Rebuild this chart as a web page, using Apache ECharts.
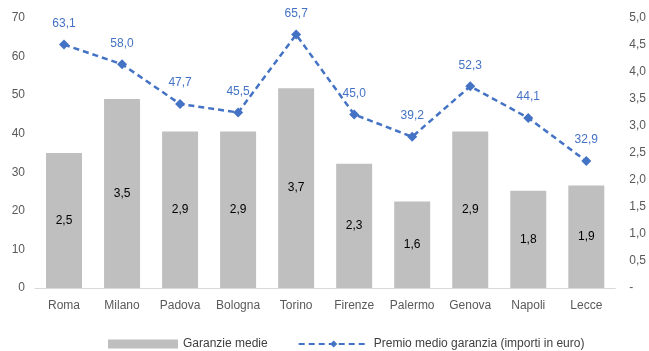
<!DOCTYPE html>
<html><head><meta charset="utf-8">
<script src="https://cdn.jsdelivr.net/npm/echarts@6/dist/echarts.min.js"></script>
<style>html,body{margin:0;padding:0;background:#fff}#c{width:649px;height:351px}</style>
</head><body><div id="c"></div>
<script>
var categories = ['Roma','Milano','Padova','Bologna','Torino','Firenze','Palermo','Genova','Napoli','Lecce'];
var garanzieMedie = [2.5, 3.5, 2.9, 2.9, 3.7, 2.3, 1.6, 2.9, 1.8, 1.9];
var premioMedio = [63.1, 58.0, 47.7, 45.5, 65.7, 45.0, 39.2, 52.3, 44.1, 32.9];
var leftTicks = {min: 0, max: 70, interval: 10};
var rightTicks = {min: 0, max: 5, interval: 0.5};

var FONT = "'Liberation Sans', Arial, sans-serif";
function it(v, d){ return v.toFixed(d).replace('.', ','); }
var chart = echarts.init(document.getElementById('c'), null, {renderer:'canvas'});
chart.setOption({
  animation: false,
  textStyle: {fontFamily: FONT},
  grid: {left: 35, right: 32, top: 18, bottom: 63, containLabel: false},
  legend: {
    top: 338, left: 108, padding: 0, itemGap: 30, itemWidth: 70, itemHeight: 9,
    textStyle: {fontFamily: FONT, fontSize: 12, color: '#404040'},
    data: [
      {name: 'Garanzie medie', icon: 'rect'},
      {name: 'Premio medio garanzia (importi in euro)'}
    ]
  },
  xAxis: {
    type: 'category', data: categories,
    axisLine: {lineStyle: {color: '#d9d9d9', width: 1}},
    axisTick: {show: false},
    axisLabel: {color: '#595959', fontSize: 12, fontFamily: FONT, margin: 12, interval: 0}
  },
  yAxis: [
    {type: 'value', min: leftTicks.min, max: leftTicks.max, interval: leftTicks.interval,
     splitLine: {show: false}, axisLine: {show: false}, axisTick: {show: false},
     axisLabel: {color: '#595959', fontSize: 12, fontFamily: FONT, margin: 10}},
    {type: 'value', min: rightTicks.min, max: rightTicks.max, interval: rightTicks.interval,
     position: 'right',
     splitLine: {show: false}, axisLine: {show: false}, axisTick: {show: false},
     axisLabel: {color: '#595959', fontSize: 12, fontFamily: FONT, margin: 14,
       formatter: function(v){ return v === 0 ? '-' : it(v, 1); }}}
  ],
  series: [
    {name: 'Garanzie medie', type: 'bar', yAxisIndex: 1, data: garanzieMedie,
     barWidth: '62%', itemStyle: {color: '#bfbfbf'},
     label: {show: true, position: 'inside', color: '#000', fontSize: 12, fontFamily: FONT,
       formatter: function(p){ return it(p.value, 1); }}},
    {name: 'Premio medio garanzia (importi in euro)', type: 'line', yAxisIndex: 0, data: premioMedio,
     symbol: 'diamond', symbolSize: 10,
     lineStyle: {color: '#4472c4', width: 2.5, type: [6, 4]},
     itemStyle: {color: '#4472c4'},
     label: {show: true, position: 'top', distance: 10, color: '#4472c4', fontSize: 12, fontFamily: FONT,
       formatter: function(p){ return it(p.value, 1); }}}
  ]
});
</script></body></html>
